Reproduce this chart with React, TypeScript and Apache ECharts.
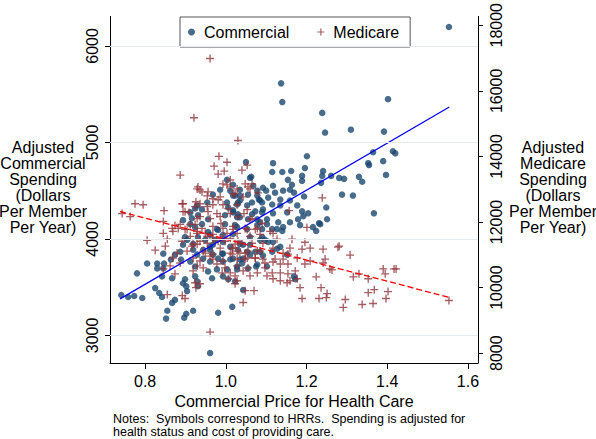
import React, { useEffect, useRef } from 'react';
import * as echarts from 'echarts';

const xTicks = [0.8, 1.0, 1.2, 1.4, 1.6];
const leftTicks = [3000, 4000, 5000, 6000];
const rightTicks = [8000, 10000, 12000, 14000, 16000, 18000];

const commercial: number[][] = [
  [1.553,6196],[1.137,5612],[1.140,5418],[1.402,5448],[1.239,5306],[1.246,5102],[1.310,5132],[1.392,5112],[1.201,4857],[1.414,4908],[1.420,4887],[1.365,4898],[1.353,4785],[1.355,4765],[1.390,4806],[1.397,4663],[1.196,4734],[1.241,4704],[1.239,4653],[1.236,4581],[1.261,4653],[1.281,4632],[1.293,4622],[1.330,4643],[1.338,4592],[1.288,4459],[1.315,4449],[1.249,4326],[1.367,4265],
  [1.050,4796],[1.117,4785],[1.063,4643],[1.115,4694],[1.140,4694],[1.162,4704],[1.189,4653],[1.189,4602],[1.154,4612],[1.164,4561],[1.117,4551],[1.092,4530],[1.068,4551],[1.122,4479],[1.142,4500],[1.159,4510],[1.169,4479],[1.194,4439],[1.035,4449],[1.082,4408],[1.105,4428],[1.135,4408],[1.159,4398],[1.115,4357],[1.135,4347],[1.177,4347],[1.053,4347],[1.028,4357],[1.092,4306],[1.073,4286],[1.117,4265],[1.189,4286],[1.204,4265],[1.251,4204],[1.231,4163],[1.179,4204],[1.192,4235],[1.159,4173],[1.130,4173],[1.102,4204],[1.085,4173],[1.055,4204],[1.028,4224],[1.018,4275],[1.142,4122],[1.184,4143],[1.216,4122],[1.115,4102],
  [0.741,3419],[0.758,3398],[0.773,3408],[0.793,3388],[0.780,3643],[0.805,3745],[0.830,3745],[0.847,3745],[0.845,3847],[0.864,3786],[0.889,3786],[0.874,3837],[0.830,3694],[0.845,3694],[0.842,3612],[0.867,3592],[0.825,3490],[0.835,3439],[0.842,3398],[0.867,3337],[0.874,3368],[0.904,3459],[0.902,3510],[0.894,3541],[0.899,3582],[0.855,3255],[0.852,3174],[0.897,3184],[0.902,3225],[0.919,3255],[0.981,3235],[1.016,3296],[0.912,3765],[0.924,3612],[0.929,3561],[0.931,3510],[0.887,3867],[0.894,3939],[0.904,3990],[0.899,4020],[0.919,3949],[0.929,3837],[0.944,3796],[0.961,3765],[0.956,3663],[0.978,3684],[0.993,3612],[1.006,3582],[1.023,3561],[0.966,3592],[0.944,3888],[0.961,3918],[0.973,3990],[0.993,3847],[1.011,3786],[1.028,3714],[1.003,3684],[0.961,2817],
  [1.043,3470],[1.224,4082],[1.140,4082],[1.097,3990],[1.073,3867],[1.117,3969],[1.135,3918],[1.115,3867],[1.092,3827],[1.055,3694],[1.075,3714],[1.035,3786],[1.028,3684],[1.169,3612],[1.172,3582],[1.090,4102],[1.018,4051],[1.043,3939],[1.053,3867],
  [1.060,4632],[1.100,4500],[1.090,4377],[1.152,4275],[1.078,4449],[1.055,4459],[1.065,4377],[1.035,4398],[1.018,4449],[1.003,4377],[1.006,4326],[1.018,4296],[1.030,4255],[1.078,4204],[1.102,4153],[1.127,4102],[1.053,4102],[1.028,4122],[0.998,4153],[0.978,4102],[0.956,4071],[0.941,4153],[0.924,4122],[0.949,3990],[0.968,3939],[0.993,3969],[1.011,3918],[1.035,3949],[1.060,3939],[1.085,3990],[1.105,3969],[0.968,3837],[0.924,3714],[0.993,3765],[1.018,3796],[1.040,3745],[1.060,3837],[1.085,3867],[1.127,3898],[1.152,3837],[1.102,3714],[1.078,3735],[1.003,4612],[1.018,4561],[1.035,4510],[0.986,4510],[0.968,4459],[0.954,4377],[0.929,4347],[0.912,4275],[0.931,4245],[0.894,4194],[0.924,4316],[1.234,4153],
  [1.011,4500],[1.023,4449],[1.078,4500],[1.030,4377],[1.085,4398],[0.941,4306],[0.916,4214],[0.956,4204],[0.998,4245],[1.035,4224],[1.065,4255],[1.090,4275],[0.912,4153],[0.981,4092],[1.023,4143],[1.078,4143],[0.931,4020],[0.961,4041],[0.993,4041],[1.060,4020],[1.090,4020],[0.919,3888],[0.961,3888],[0.991,3847],[1.030,3888],[0.981,3796],[1.043,3796],
];

const medicare: number[][] = [
  [0.961,16985],[0.921,15178],[1.030,14485],[0.887,13431],[0.983,14003],[0.971,13702],[1.003,13822],[0.981,13461],[0.996,13551],[1.053,13732],[1.040,13581],[1.011,13280],[0.929,13009],[0.936,12979],[0.956,12919],[0.775,12557],[0.795,12527],[0.743,12256],[0.763,12166],[0.847,12346],[0.894,12557],[0.894,12316],[0.936,12557],[0.968,12527],[1.023,12859],[1.048,13160],[1.060,13009],[1.080,12889],[1.239,12738],
  [0.926,12617],[0.845,12015],[0.874,11895],[0.887,11925],[0.867,11804],[1.003,13130],[0.929,12105],[0.924,11925],
  [1.065,13160],[1.157,12346],[1.201,11834],[1.028,13009],[1.018,12859],[1.043,12768],[1.055,13069],[1.065,12105],[1.090,11955],[1.048,11804],
  [1.117,11654],[1.164,11473],[1.196,11383],[1.189,11172],[1.209,11202],[1.241,11172],[1.278,11232],[1.308,10991],[1.246,10870],[1.241,10750],[1.258,10569],[1.209,10810],[1.196,10720],[1.177,10901],[1.154,11021],[1.142,10870],[1.154,10720],[1.135,10720],[1.117,10780],[1.092,10870],[1.097,10599],[1.115,10449],[1.135,10449],[1.154,10419],[1.172,10509],[1.177,10268],[1.159,10208],[1.135,10208],[1.152,10148],[1.184,9997],[1.189,9666],[1.224,10328],[1.236,9997],[1.251,9816],[1.249,9696],[1.231,9666],[1.296,9636],[1.291,9395],[1.316,10328],[1.078,10449],[1.060,10358],[1.043,10509],[1.028,10660],[1.055,10599],[1.073,10901],[1.048,10870],[1.028,10208],[1.048,9907],[1.070,9907],[1.043,9545],[1.102,10358],[1.117,10268],[1.055,11112],[1.035,11051],[1.023,11323],[1.092,11353],[1.117,11202],[1.142,11051],
  [1.281,11262],[1.263,10539],[1.330,10419],[1.353,10268],[1.353,9846],[1.368,9937],[1.338,9485],[1.365,9515],[1.390,10569],[1.395,10419],[1.417,10569],[1.422,10569],[1.402,9877],[1.397,9666],[1.553,9606],
  [0.805,11443],[0.825,11142],[0.850,11262],[0.855,11473],[0.845,11654],[0.869,11714],[0.882,11804],[0.899,11774],[0.892,11413],[0.912,11563],[0.904,11112],[0.879,11051],[0.869,10901],[0.862,10660],[0.845,10569],[0.887,10750],[0.874,10419],[0.916,11262],[0.919,10901],[0.929,10660],[0.936,10810],[0.944,10599],[0.919,10509],[0.924,10148],[0.926,9997],[0.936,10118],[0.855,9786],[0.892,9756],[0.899,9666],[0.961,8641],[0.968,10870],[0.978,10720],[0.961,10961],[0.991,10449],[0.998,10599],[1.011,10449],[1.023,10358],[1.006,10268],[1.023,10118],[0.981,11413],[0.993,11503],[1.016,11202],[0.954,11353],[0.936,11413],[0.968,11624],[0.949,11654],[0.929,11654],[1.003,11654],[1.018,11774],[1.028,10870],
  [0.993,13160],[1.011,13069],[0.931,13069],[0.941,12919],[0.954,12798],[0.968,12708],[0.986,12768],[0.892,12557],[0.899,12316],[0.924,12467],[0.954,12467],[0.993,12527],[0.936,12166],[0.961,12105],[0.986,12166],[1.011,12256],[1.030,12166],[1.053,12377],[0.912,11925],[0.968,11864],[0.993,11804],[1.018,11864],[1.053,11774],[1.078,11804],[0.929,11714],[0.954,11563],[0.986,11503],[1.011,11503],[1.030,11413],[1.060,11563],[1.085,11624],[1.110,11714],[1.127,11473],[1.159,11202],[1.122,10870],[1.097,10750],[1.078,11112],[1.053,10901],[1.030,11112],[1.011,11051],[0.986,11202],[0.968,11021],[0.944,11112],[0.919,11323],[0.993,10810],
  [0.981,12678],[0.909,12286],[0.978,12256],[1.006,12407],[1.028,12527],[1.045,12256],[1.060,12075],[0.904,11774],[0.941,11804],[0.988,11955],[1.028,11654],[1.073,11774],[0.929,11322],[0.968,11473],[0.998,11413],[1.040,11352],[1.018,11202],[1.065,11352],[1.085,11112],[1.016,11021],[1.048,11051],[1.073,10901],[0.949,11051],[0.956,12316],
];

const commercialFit: number[][] = [[0.738, 3378], [1.554, 5367]];
const medicareFit: number[][] = [[0.738, 12320], [1.554, 9700]];

const xRange = [0.713, 1.625];
const leftRange = [2714, 6306];
const rightRange = [7700, 18270];

const xTitle = 'Commercial Price for Health Care';
const leftTitle = ['Adjusted', 'Commercial', 'Spending', '(Dollars', 'Per Member', 'Per Year)'];
const rightTitle = ['Adjusted', 'Medicare', 'Spending', '(Dollars', 'Per Member', 'Per Year)'];
const notes = [
  'Notes:  Symbols correspond to HRRs.  Spending is adjusted for',
  'health status and cost of providing care.',
];

const FONT = '"Liberation Sans", Arial, Helvetica, sans-serif';
const PLUS = 'path://M5,0H7V5H12V7H7V12H5V7H0V5H5Z';
const NAVY = '#1a476f';
const MAROON = '#90353b';

export default function App() {
  const ref = useRef<HTMLDivElement>(null);
  useEffect(() => {
    if (!ref.current) return;
    const chart = echarts.init(ref.current, undefined, { renderer: 'svg' });
    const axisText = { fontFamily: FONT, fontSize: 16, color: '#000' };
    const titleEls: any[] = [];
    leftTitle.forEach((t, i) => {
      titleEls.push({
        type: 'text',
        style: { text: t, x: 43, y: 147 + i * 16, align: 'center', verticalAlign: 'middle', fontFamily: FONT, fontSize: 16, fill: '#000' },
      });
    });
    rightTitle.forEach((t, i) => {
      titleEls.push({
        type: 'text',
        style: { text: t, x: 553, y: 147 + i * 16, align: 'center', verticalAlign: 'middle', fontFamily: FONT, fontSize: 16, fill: '#000' },
      });
    });
    notes.forEach((t, i) => {
      titleEls.push({
        type: 'text',
        style: { text: t, x: 113, y: 419 + i * 13, align: 'left', verticalAlign: 'middle', fontFamily: FONT, fontSize: 12.5, fill: '#000' },
      });
    });

    chart.setOption({
      animation: false,
      backgroundColor: '#fff',
      grid: { left: 110, right: 118, top: 12, bottom: 76 },
      legend: {
        left: 180,
        top: 17,
        data: [
          { name: 'Commercial', icon: 'circle' },
          { name: 'Medicare', icon: PLUS },
        ],
        itemWidth: 7,
        itemHeight: 7,
        itemGap: 28,
        padding: [7, 11, 7, 8],
        borderColor: '#555',
        borderWidth: 1,
        backgroundColor: '#fff',
        textStyle: { fontFamily: FONT, fontSize: 16, color: '#000', padding: [0, 0, 0, 4] },
      },
      xAxis: {
        type: 'value',
        min: xRange[0],
        max: xRange[1],
        name: xTitle,
        nameLocation: 'middle',
        nameGap: 26,
        nameTextStyle: axisText,
        axisLine: { show: true, onZero: false, lineStyle: { color: '#000', width: 1 } },
        axisTick: { show: true, length: 6, customValues: xTicks, lineStyle: { color: '#000' } },
        axisLabel: { customValues: xTicks, formatter: (v: number) => v.toFixed(1), margin: 10, ...axisText },
        splitLine: { show: false },
      },
      yAxis: [
        {
          type: 'value',
          position: 'left',
          min: leftRange[0],
          max: leftRange[1],
          axisLine: { show: true, onZero: false, lineStyle: { color: '#000', width: 1 } },
          axisTick: { show: true, length: 5, customValues: leftTicks, lineStyle: { color: '#000' } },
          axisLabel: { customValues: leftTicks, formatter: (v: number) => String(v), rotate: 90, margin: 10, ...axisText },
          splitLine: { show: false },
        },
        {
          type: 'value',
          position: 'right',
          min: rightRange[0],
          max: rightRange[1],
          axisLine: { show: true, onZero: false, lineStyle: { color: '#000', width: 1 } },
          axisTick: { show: true, length: 5, customValues: rightTicks, lineStyle: { color: '#000' } },
          axisLabel: { customValues: rightTicks, formatter: (v: number) => String(v), rotate: 90, margin: 10, ...axisText },
          splitLine: { show: false },
        },
      ],
      series: [
        {
          name: 'grid',
          type: 'line',
          data: [],
          z: 0,
          silent: true,
          markLine: {
            silent: true,
            symbol: ['none', 'none'],
            label: { show: false },
            lineStyle: { color: '#e3ebee', width: 1, type: 'solid' },
            data: leftTicks.map((v) => ({ yAxis: v })),
          },
        },
        {
          name: 'Commercial',
          type: 'scatter',
          yAxisIndex: 0,
          symbol: 'circle',
          symbolSize: 6.5,
          itemStyle: { color: NAVY },
          data: commercial,
          z: 2,
        },
        {
          name: 'Medicare',
          type: 'scatter',
          yAxisIndex: 1,
          symbol: PLUS,
          symbolSize: 8,
          itemStyle: { color: MAROON },
          data: medicare,
          z: 3,
        },
        {
          name: 'Commercial fit',
          type: 'line',
          yAxisIndex: 0,
          data: commercialFit,
          symbol: 'none',
          lineStyle: { color: '#0000ff', width: 1.3 },
          z: 4,
        },
        {
          name: 'Medicare fit',
          type: 'line',
          yAxisIndex: 1,
          data: medicareFit,
          symbol: 'none',
          lineStyle: { color: '#ff0000', width: 1.3, type: [6, 3] },
          z: 4,
        },
      ],
      graphic: titleEls,
    });
    return () => chart.dispose();
  }, []);
  return <div ref={ref} style={{ position: 'absolute', left: 0, top: 0, width: 596, height: 439 }} />;
}
